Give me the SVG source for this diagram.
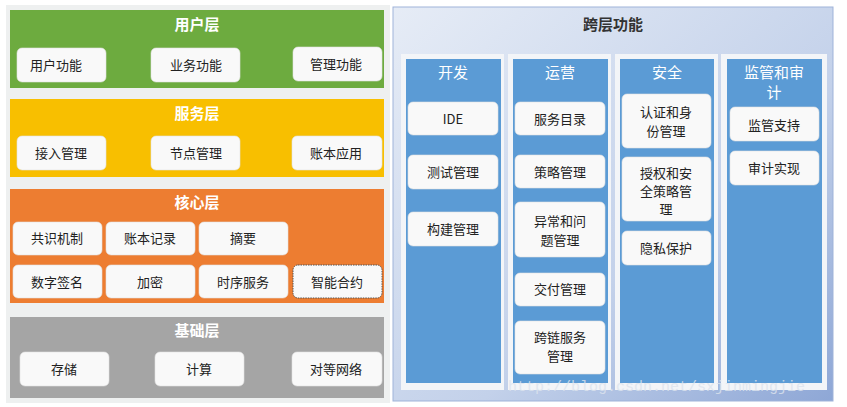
<svg xmlns="http://www.w3.org/2000/svg" width="847" height="407" viewBox="0 0 847 407">
<defs>
<linearGradient id="rg" x1="0" y1="0" x2="1" y2="1">
<stop offset="0" stop-color="#e6ecf6"/><stop offset="0.6" stop-color="#c3d1ea"/><stop offset="1" stop-color="#8ea7d6"/>
</linearGradient>
<style>
.b{fill:#f9f9f9;stroke:#e0e0e0;stroke-width:0.6}
.t{font-family:"Noto Sans CJK SC","Liberation Sans",sans-serif;font-size:13px;fill:#222;text-anchor:middle}
.h{font-family:"Noto Sans CJK SC","Liberation Sans",sans-serif;font-size:15px;font-weight:bold;fill:#fff;text-anchor:middle}
.ch{font-family:"Noto Sans CJK SC","Liberation Sans",sans-serif;font-size:15px;fill:#fff;text-anchor:middle}
.col{fill:#5b9bd5}
.pan{fill:#f3f5f8}
</style>
</defs>
<rect width="847" height="407" fill="#fff"/>
<rect x="6" y="5" width="384" height="398" fill="#eef0f0"/>
<g id="user">
<rect x="10" y="10" width="374" height="78" fill="#6dab3f"/>
<text class="h" x="197" y="30">用户层</text>
<rect class="b" x="17" y="48" width="89" height="34" rx="5"/><text class="t" x="56" y="70">用户功能</text>
<rect class="b" x="151" y="48" width="89" height="34" rx="5"/><text class="t" x="196" y="70">业务功能</text>
<rect class="b" x="293" y="47" width="89" height="34" rx="5"/><text class="t" x="336" y="69">管理功能</text>
</g>
<g id="service">
<rect x="10" y="99" width="374" height="78" fill="#f8bf00"/>
<text class="h" x="197" y="119">服务层</text>
<rect class="b" x="17" y="136" width="89" height="34" rx="5"/><text class="t" x="61" y="158">接入管理</text>
<rect class="b" x="151" y="136" width="89" height="34" rx="5"/><text class="t" x="196" y="158">节点管理</text>
<rect class="b" x="292" y="136" width="90" height="34" rx="5"/><text class="t" x="336" y="158">账本应用</text>
</g>
<g id="core">
<rect x="10" y="189" width="374" height="114" fill="#ed7d31"/>
<text class="h" x="197" y="208">核心层</text>
<rect class="b" x="13" y="222" width="89" height="33" rx="5"/><text class="t" x="57" y="243">共识机制</text>
<rect class="b" x="106" y="222" width="89" height="33" rx="5"/><text class="t" x="150" y="243">账本记录</text>
<rect class="b" x="199" y="222" width="89" height="33" rx="5"/><text class="t" x="243" y="243">摘要</text>
<rect class="b" x="13" y="265" width="89" height="33" rx="5"/><text class="t" x="57" y="287">数字签名</text>
<rect class="b" x="106" y="265" width="89" height="33" rx="5"/><text class="t" x="150" y="287">加密</text>
<rect class="b" x="199" y="265" width="89" height="33" rx="5"/><text class="t" x="243" y="287">时序服务</text>
<rect x="293" y="265" width="89" height="33" rx="5" fill="#f9f9f9" stroke="#555" stroke-dasharray="1.5 1"/><text class="t" x="337" y="287">智能合约</text>
</g>
<g id="base">
<rect x="10" y="317" width="374" height="81" fill="#a5a5a5"/>
<text class="h" x="197" y="336">基础层</text>
<rect class="b" x="20" y="352" width="89" height="34" rx="5"/><text class="t" x="64" y="374">存储</text>
<rect class="b" x="155" y="352" width="89" height="34" rx="5"/><text class="t" x="199" y="374">计算</text>
<rect class="b" x="292" y="352" width="90" height="34" rx="5"/><text class="t" x="336" y="374">对等网络</text>
</g>
<g id="cross">
<rect x="393" y="7" width="440" height="394" fill="url(#rg)" stroke="#9fb3d9"/>
<text x="613" y="30" font-family="Noto Sans CJK SC,sans-serif" font-size="15" font-weight="bold" fill="#333" text-anchor="middle">跨层功能</text>
<rect class="pan" x="401" y="54" width="103" height="336"/>
<rect class="pan" x="508" y="54" width="103" height="336"/>
<rect class="pan" x="615" y="54" width="103" height="336"/>
<rect class="pan" x="721" y="54" width="106" height="336"/>
</g>
<g id="dev">
<rect class="col" x="406" y="59" width="95" height="324"/>
<text class="ch" x="453" y="78">开发</text>
<rect class="b" x="408" y="102" width="90" height="33" rx="5"/><text class="t" x="453" y="124">IDE</text>
<rect class="b" x="408" y="155" width="90" height="34" rx="5"/><text class="t" x="453" y="177">测试管理</text>
<rect class="b" x="408" y="212" width="90" height="34" rx="5"/><text class="t" x="453" y="234">构建管理</text>
</g>
<g id="ops">
<rect class="col" x="513" y="59" width="95" height="324"/>
<text class="ch" x="560" y="78">运营</text>
<rect class="b" x="515" y="102" width="90" height="33" rx="5"/><text class="t" x="560" y="124">服务目录</text>
<rect class="b" x="515" y="155" width="90" height="33" rx="5"/><text class="t" x="560" y="177">策略管理</text>
<rect class="b" x="515" y="202" width="90" height="55" rx="5"/><text class="t" x="560" y="226">异常和问</text><text class="t" x="560" y="245">题管理</text>
<rect class="b" x="515" y="273" width="90" height="33" rx="5"/><text class="t" x="560" y="294">交付管理</text>
<rect class="b" x="515" y="321" width="90" height="53" rx="5"/><text class="t" x="560" y="342">跨链服务</text><text class="t" x="560" y="361">管理</text>
</g>
<g id="sec">
<rect class="col" x="620" y="59" width="94" height="324"/>
<text class="ch" x="667" y="78">安全</text>
<rect class="b" x="622" y="94" width="89" height="54" rx="5"/><text class="t" x="666" y="117">认证和身</text><text class="t" x="666" y="136">份管理</text>
<rect class="b" x="622" y="157" width="89" height="64" rx="5"/><text class="t" x="666" y="178">授权和安</text><text class="t" x="666" y="196">全策略管</text><text class="t" x="666" y="214">理</text>
<rect class="b" x="622" y="231" width="89" height="34" rx="5"/><text class="t" x="666" y="253">隐私保护</text>
</g>
<g id="audit">
<rect class="col" x="727" y="59" width="95" height="324"/>
<text class="ch" x="774" y="78">监管和审</text><text class="ch" x="774" y="98">计</text>
<rect class="b" x="730" y="107" width="89" height="34" rx="5"/><text class="t" x="774" y="130">监管支持</text>
<rect class="b" x="730" y="151" width="89" height="34" rx="5"/><text class="t" x="774" y="173">审计实现</text>
</g>
<text x="508" y="391" font-family="Liberation Mono,monospace" font-size="15" fill="#dde4ee" opacity="0.8">http://blog.csdn.net/sxjinmingjie</text>
</svg>
